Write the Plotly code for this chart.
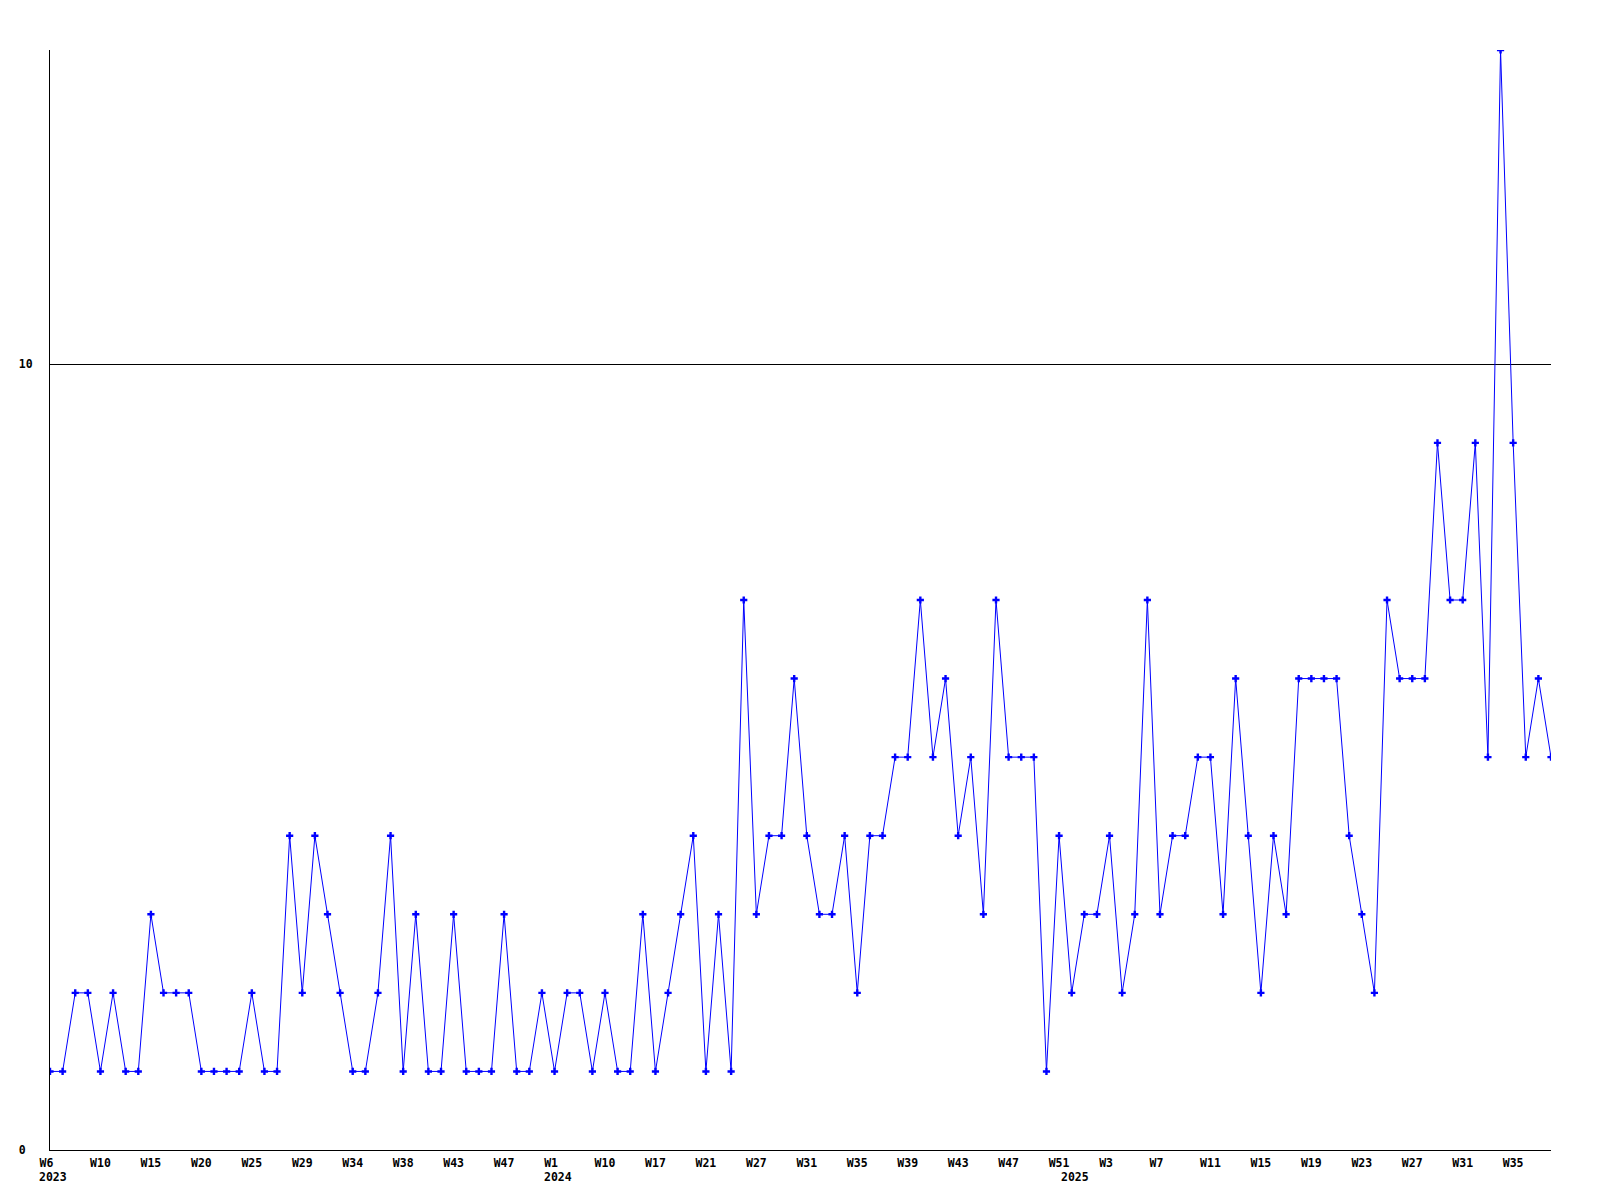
import plotly.graph_objects as go

# weekly counts, one per plotted week (left to right)
values = [
    1, 1, 2, 2, 1, 2, 1, 1, 3, 2,
    2, 2, 1, 1, 1, 1, 2, 1, 1, 4,
    2, 4, 3, 2, 1, 1, 2, 4, 1, 3,
    1, 1, 3, 1, 1, 1, 3, 1, 1, 2,
    1, 2, 2, 1, 2, 1, 1, 3, 1, 2,
    3, 4, 1, 3, 1, 7, 3, 4, 4, 6,
    4, 3, 3, 4, 2, 4, 4, 5, 5, 7,
    5, 6, 4, 5, 3, 7, 5, 5, 5, 1,
    4, 2, 3, 3, 4, 2, 3, 7, 3, 4,
    4, 5, 5, 3, 6, 4, 2, 4, 3, 6,
    6, 6, 6, 4, 3, 2, 7, 6, 6, 6,
    9, 7, 7, 9, 5, 14, 9, 5, 6, 5,
]

# x-axis week labels (every 4th plotted week)
week_tick_pos = list(range(0, 120, 4))
week_tick_labels = [
    "W6", "W10", "W15", "W20", "W25", "W29", "W34", "W38", "W43", "W47",
    "W1", "W10", "W17", "W21", "W27", "W31", "W35", "W39", "W43", "W47",
    "W51", "W3", "W7", "W11", "W15", "W19", "W23", "W27", "W31", "W35",
]

# year labels and the week index where each year starts
year_pos = [0, 40, 81]
year_labels = ["2023", "2024", "2025"]

y_tick_vals = [0, 10]
y_tick_labels = ["0\u00a0", "10"]

FONT = dict(family="DejaVu Sans Mono", size=11.5, color="black", weight="bold")

x = list(range(len(values)))
# left-align short labels to the same start as 3-character ones
tick_text = [t if len(t) >= 3 else t + "\u00a0" for t in week_tick_labels]

fig = go.Figure()
fig.add_trace(go.Scatter(
    x=x, y=values, mode="lines+markers",
    line=dict(color="#0000ff", width=1),
    marker=dict(symbol="cross", size=6, color="#0000ff", line=dict(width=0)),
    hoverinfo="x+y", showlegend=False,
))

for pos, lab in zip(year_pos, year_labels):
    fig.add_annotation(
        x=pos, y=0, xref="x", yref="paper", text=lab, showarrow=False,
        xanchor="left", yanchor="top", xshift=-13, yshift=-18, font=FONT,
    )

fig.update_layout(
    width=1600, height=1200,
    margin=dict(l=50, r=49, t=50, b=50),
    paper_bgcolor="white", plot_bgcolor="white",
    font=FONT,
)
fig.update_xaxes(
    range=[0, len(values) - 1], tickmode="array",
    tickvals=week_tick_pos, ticktext=tick_text,
    showgrid=False, zeroline=False, showline=True, linecolor="black", linewidth=1,
    ticks="", tickfont=FONT, ticklabelstandoff=2,
)
fig.update_yaxes(
    range=[0, 14], tickmode="array", tickvals=y_tick_vals, ticktext=y_tick_labels,
    showgrid=True, gridcolor="black", gridwidth=1,
    zeroline=False, showline=True, linecolor="black", linewidth=1,
    ticks="", tickfont=FONT, ticklabelstandoff=14,
)

fig.write_html("out.html", config={"displayModeBar": False},
               post_script="document.body.style.margin='0';")
